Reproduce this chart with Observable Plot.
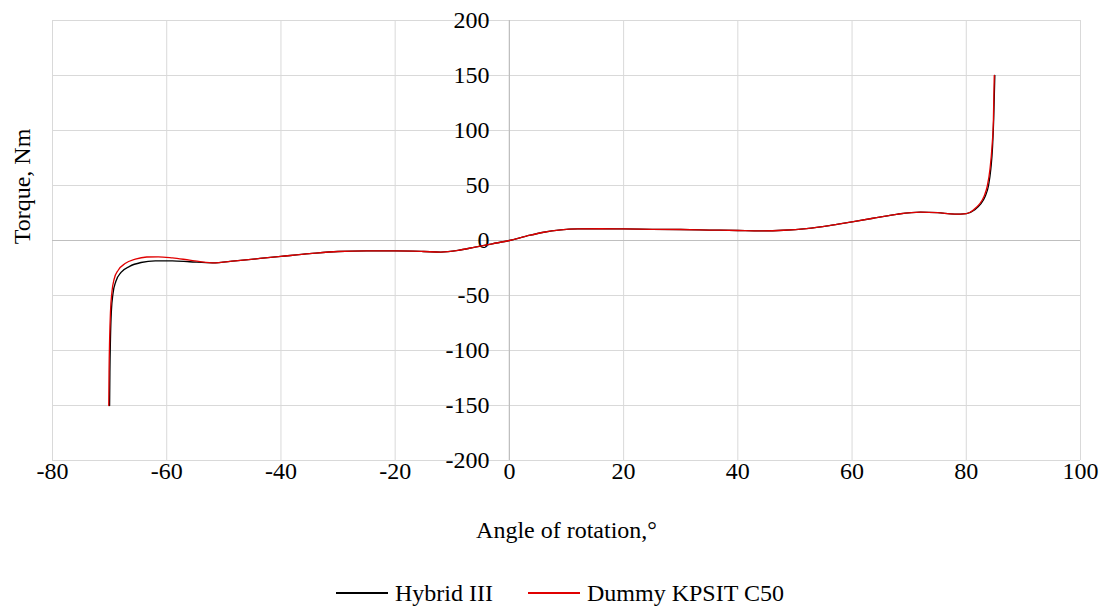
<!DOCTYPE html>
<html>
<head>
<meta charset="utf-8">
<script src="https://cdn.jsdelivr.net/npm/d3@7"></script>
<script src="https://cdn.jsdelivr.net/npm/@observablehq/plot@0.6"></script>
<style>
  html, body { margin: 0; padding: 0; background: #fff; }
  #chart { width: 1101px; }
  .legend { position: relative; height: 48px; font-family: "Liberation Serif", "Times New Roman", serif; font-size: 24px; color: #000; }
  .legend .item { position: absolute; top: 13px; display: flex; align-items: center; height: 40px; }
  .legend .sw { display: inline-block; width: 52px; height: 1.4px; margin-right: 7px; }
</style>
</head>
<body>
<div id="chart"></div>
<script>
const xTicks = [-80, -60, -40, -20, 0, 20, 40, 60, 80, 100];
const yTicks = [-200, -150, -100, -50, 0, 50, 100, 150, 200];

const seriesNames = ["Hybrid III", "Dummy KPSIT C50"];
const seriesColors = ["#000000", "#e00000"];

const hybridAngle = [-70, -69.95, -69.85, -69.7, -69.4, -68.9, -68, -66.5, -64.5, -62, -59, -56, -52, -48, -44, -40, -35, -30, -25, -20, -15, -12, -9, -6, -3, 0, 3, 6, 9, 12, 16, 20, 25, 30, 35, 40, 44, 48, 52, 56, 60, 64, 68, 72, 75, 78, 80, 81.5, 82.5, 83.3, 83.9, 84.3, 84.6, 84.8, 85];
const hybridTorque = [-150, -120, -90, -65, -48, -37, -29, -23.5, -20, -18.5, -18.5, -19.3, -20.3, -18.5, -16.5, -14.5, -12, -10, -9.5, -9.5, -10, -10.5, -9, -6, -3, 0, 4, 7.5, 9.6, 10.5, 10.7, 10.5, 10.2, 10, 9.5, 9.1, 8.8, 9.3, 10.8, 13.5, 17, 20.5, 24, 25.8, 25.3, 24, 24.5, 28, 33, 40, 50, 65, 85, 110, 150];

const kpsitAngle = [-70.15, -70.1, -70, -69.85, -69.6, -69.2, -68.5, -67.3, -65.5, -63.5, -61.5, -59, -56, -52, -48, -44, -40, -35, -30, -25, -20, -15, -12, -9, -6, -3, 0, 3, 6, 9, 12, 16, 20, 25, 30, 35, 40, 44, 48, 52, 56, 60, 64, 68, 72, 75, 78, 80, 81.3, 82.3, 83.1, 83.7, 84.15, 84.5, 84.75, 84.9];
const kpsitTorque = [-150, -120, -90, -65, -47, -35, -27, -21, -17, -15, -14.8, -15.8, -17.8, -20.3, -18.5, -16.5, -14.5, -12, -10, -9.5, -9.5, -10, -10.5, -9, -6, -3, 0, 4, 7.5, 9.6, 10.5, 10.7, 10.5, 10.2, 10, 9.5, 9.1, 8.8, 9.3, 10.8, 13.5, 17, 20.5, 24, 25.8, 25.3, 24, 24.5, 28, 33, 40, 50, 65, 85, 110, 150];

const hybrid = hybridAngle.map((a, i) => ({angle: a, torque: hybridTorque[i]}));
const kpsit = kpsitAngle.map((a, i) => ({angle: a, torque: kpsitTorque[i]}));

const FONT = "'Liberation Serif', 'Times New Roman', serif";

const plot = Plot.plot({
  width: 1101,
  height: 560,
  marginLeft: 52,
  marginRight: 21,
  marginTop: 20,
  marginBottom: 100,
  style: {fontFamily: FONT, fontSize: "24px", color: "#000", background: "#fff"},
  x: {domain: [-80, 100]},
  y: {domain: [-200, 200]},
  marks: [
    Plot.gridX(xTicks, {stroke: "#d9d9d9", strokeOpacity: 1, strokeWidth: 1}),
    Plot.gridY(yTicks, {stroke: "#d9d9d9", strokeOpacity: 1, strokeWidth: 1}),
    Plot.ruleX([0], {stroke: "#bfbfbf", strokeWidth: 1.2}),
    Plot.ruleY([0], {stroke: "#bfbfbf", strokeWidth: 1.2}),
    Plot.axisX(xTicks, {tickSize: 0, tickPadding: 1, tickFormat: d => String(d), label: null, fontSize: 24, fontFamily: FONT, fontVariant: "normal"}),
    Plot.axisY(yTicks, {tickSize: 0, label: null, tickFormat: () => ""}),
    Plot.text(yTicks, {x: 0, y: d => d, text: d => String(d), textAnchor: "end", dx: -20, fontSize: 24, fontFamily: FONT}),
    Plot.line(hybrid, {x: "angle", y: "torque", stroke: seriesColors[0], strokeWidth: 1.3, curve: "monotone-x"}),
    Plot.line(kpsit, {x: "angle", y: "torque", stroke: seriesColors[1], strokeWidth: 1.3, curve: "monotone-x"}),
    Plot.text(["Angle of rotation,°"], {frameAnchor: "bottom", dy: 70, lineAnchor: "middle", text: d => d, fontSize: 24, fontFamily: FONT}),
    Plot.text(["Torque, Nm"], {frameAnchor: "left", dx: -30, dy: -54, rotate: -90, textAnchor: "middle", lineAnchor: "middle", text: d => d, fontSize: 24, fontFamily: FONT})
  ]
});
document.getElementById("chart").appendChild(plot);

const legend = document.createElement("div");
legend.className = "legend";
const lefts = [336, 528];
seriesNames.forEach((name, i) => {
  const item = document.createElement("div");
  item.className = "item";
  item.style.left = lefts[i] + "px";
  const sw = document.createElement("span");
  sw.className = "sw";
  sw.style.background = seriesColors[i];
  const t = document.createElement("span");
  t.textContent = name;
  item.appendChild(sw);
  item.appendChild(t);
  legend.appendChild(item);
});
document.getElementById("chart").appendChild(legend);
</script>
</body>
</html>
